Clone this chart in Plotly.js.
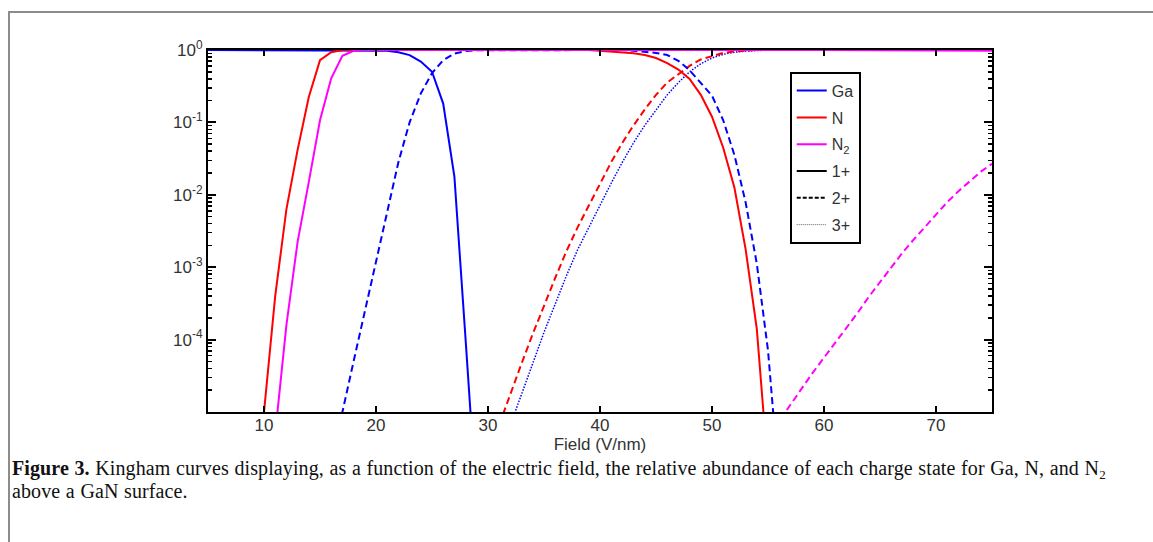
<!DOCTYPE html>
<html>
<head>
<meta charset="utf-8">
<script src="https://cdn.plot.ly/plotly-3.0.1.min.js"></script>
<style>
  html, body { margin: 0; padding: 0; background: #fff; }
  #page { position: relative; width: 1153px; height: 542px; overflow: hidden; }
  #frame { position: absolute; left: 8px; top: 11px; right: -10px; bottom: -10px;
           border-top: 2px solid #8c8c8c; border-left: 2px solid #8c8c8c; }
  #chart { position: absolute; left: 0; top: 0; width: 1153px; height: 542px; }
  #caption { position: absolute; left: 12px; top: 457px; width: 1135px; white-space: nowrap;
             font-family: "Liberation Serif", "DejaVu Serif", serif; font-size: 20px;
             letter-spacing: 0.1px; word-spacing: 0.5px;
             line-height: 23px; color: #111; }
  #caption b { font-weight: bold; }
  #caption sub { font-size: 13px; vertical-align: -4px; line-height: 0; }
</style>
</head>
<body>
<div id="page">
  <div id="frame"></div>
  <div id="chart"></div>
  <div id="caption"><b>Figure 3.</b> Kingham curves displaying, as a function of the electric field, the relative abundance of each charge state for Ga, N, and N<sub>2</sub><br>above a GaN surface.</div>
</div>
<script>
// Relative abundance of each charge state versus surface field (V/nm)

// Ga 1+
const gaOneField = [5, 20, 21, 22, 23, 24, 25, 26, 27, 28, 29];
const gaOneAbund = [1, 1, 0.977, 0.933, 0.851, 0.692, 0.501, 0.182, 0.0178, 1.0e-4, 5.0e-7];

// Ga 2+
const gaTwoField = [16, 17, 18, 19, 20, 21, 22, 23, 24, 25, 26, 27, 28, 29, 42,
                    43, 44, 45, 46, 47, 48, 49, 50, 51, 52, 53, 54, 55, 56];
const gaTwoAbund = [4.0e-7, 1.0e-5, 5.0e-5, 2.5e-4, 1.26e-3, 6.3e-3, 0.0282, 0.1, 0.251, 0.479,
                    0.724, 0.891, 0.966, 0.99, 1,
                    0.977, 0.955, 0.912, 0.851, 0.708, 0.525, 0.355, 0.234, 0.107, 0.0355,
                    7.9e-3, 1.12e-3, 7.1e-5, 1.0e-6];

// Ga 3+
const gaThreeField = [31, 32, 33, 34, 35, 36, 37, 38, 39, 40, 41, 42, 43, 44, 45,
                      46, 47, 48, 49, 50, 51, 52, 53, 54, 55, 75];
const gaThreeAbund = [2.5e-6, 6.8e-6, 1.78e-5, 4.7e-5, 1.26e-4, 3.16e-4, 7.6e-4, 1.74e-3, 3.55e-3,
                      7.2e-3, 0.0145, 0.0282, 0.0525, 0.0912, 0.151, 0.240, 0.355, 0.501, 0.646,
                      0.776, 0.871, 0.933, 0.966, 0.989, 1, 1];

// N 1+
const nOneField = [9, 10, 11, 12, 13, 14, 15, 16, 17, 39, 40, 41, 42, 43, 44, 45,
                   46, 47, 48, 49, 50, 51, 52, 53, 54, 55];
const nOneAbund = [2.5e-7, 1.0e-5, 3.98e-4, 6.3e-3, 0.0417, 0.224, 0.724, 0.933, 1, 1,
                   0.977, 0.955, 0.933, 0.902, 0.851, 0.776, 0.661, 0.537, 0.398, 0.240,
                   0.120, 0.0447, 0.0126, 1.78e-3, 1.41e-4, 1.6e-6];

// N 2+
const nTwoField = [30, 31, 32, 33, 34, 35, 36, 37, 38, 39, 40, 41, 42, 43, 44, 45,
                   46, 47, 48, 49, 50, 51, 52, 53, 54, 75];
const nTwoAbund = [2.5e-6, 6.8e-6, 1.78e-5, 4.7e-5, 1.2e-4, 2.95e-4, 7.1e-4, 1.66e-3, 3.55e-3,
                   7.1e-3, 0.0141, 0.0282, 0.0525, 0.0912, 0.151, 0.240, 0.355, 0.468, 0.603,
                   0.741, 0.832, 0.912, 0.955, 0.977, 1, 1];

// N2 1+
const nTwoMolOneField = [10, 11, 12, 13, 14, 15, 16, 17, 18, 19, 60, 70, 75];
const nTwoMolOneAbund = [1.0e-7, 5.0e-6, 1.58e-4, 2.24e-3, 0.0151, 0.107, 0.407, 0.832, 0.977,
                         1, 1, 0.995, 0.974];

// N2 2+
const nTwoMolTwoField = [55, 56, 57, 58, 59, 60, 61, 62, 63, 64, 65, 66, 67, 68, 69,
                         70, 71, 72, 73, 74, 75];
const nTwoMolTwoAbund = [4.5e-6, 7.6e-6, 1.26e-5, 2.1e-5, 3.5e-5, 5.6e-5, 8.9e-5, 1.41e-4,
                         2.34e-4, 3.9e-4, 6.3e-4, 1.0e-3, 1.58e-3, 2.4e-3, 3.6e-3, 5.4e-3,
                         7.9e-3, 0.0112, 0.0151, 0.0209, 0.0268];

// Axis labels
const fieldTicks = [10, 20, 30, 40, 50, 60, 70];
const abundTicks = [1, 0.1, 0.01, 0.001, 0.0001];
const abundTickText = ['10<sup>0</sup>', '10<sup>-1</sup>', '10<sup>-2</sup>', '10<sup>-3</sup>', '10<sup>-4</sup>'];

// Legend entries: species colours, then charge-state line styles
const speciesNames = ['Ga', 'N', 'N<sub>2</sub>'];
const chargeNames = ['1+', '2+', '3+'];

const BLUE = '#0000ff', RED = '#ff0000', MAGENTA = '#ff00ff';
const SOLID = 'solid', DASHED = '7px,4px', DOTTED = '1.5px,1.5px';

function curve(x, y, color, dash, width) {
  return { x: x, y: y, type: 'scatter', mode: 'lines', showlegend: false,
           hoverinfo: 'skip', line: { color: color, dash: dash, width: width } };
}

const traces = [
  curve(gaThreeField, gaThreeAbund, BLUE, DOTTED, 1.5),
  curve(nTwoField, nTwoAbund, RED, DASHED, 2),
  curve(gaTwoField, gaTwoAbund, BLUE, DASHED, 2),
  curve(nTwoMolTwoField, nTwoMolTwoAbund, MAGENTA, DASHED, 2),
  curve(gaOneField, gaOneAbund, BLUE, SOLID, 2),
  curve(nOneField, nOneAbund, RED, SOLID, 2),
  curve(nTwoMolOneField, nTwoMolOneAbund, MAGENTA, SOLID, 2)
];

// Legend-only entries
const legendStyles = [
  [speciesNames[0], BLUE, SOLID, 2], [speciesNames[1], RED, SOLID, 2], [speciesNames[2], MAGENTA, SOLID, 2],
  [chargeNames[0], '#000', SOLID, 2], [chargeNames[1], '#000', '4px,2px', 2], [chargeNames[2], '#666', '1px,1px', 1]
];
legendStyles.forEach(function (s, i) {
  traces.push({ x: [null], y: [null], type: 'scatter', mode: 'lines', name: s[0],
                legendgroup: 'g' + i, showlegend: true,
                line: { color: s[1], dash: s[2], width: s[3] } });
});

// Minor ticks for every decade on the log axis
const minorVals = [];
for (let e = -5; e < 0; e++) {
  for (let m = 2; m <= 9; m++) minorVals.push(m * Math.pow(10, e));
}

const axisFont = { family: 'Liberation Sans, Arial, sans-serif', size: 17, color: '#333' };

const layout = {
  width: 1153, height: 542,
  margin: { l: 208, r: 161, t: 50, b: 130 },
  paper_bgcolor: 'rgba(0,0,0,0)', plot_bgcolor: '#fff',
  showlegend: true,
  legend: {
    x: 0.742, y: 0.94, xanchor: 'left', yanchor: 'top',
    bgcolor: '#fff', bordercolor: '#000', borderwidth: 2,
    font: { family: 'Liberation Sans, Arial, sans-serif', size: 16, color: '#333' },
    traceorder: 'grouped', tracegroupgap: 3, itemwidth: 30
  },
  xaxis: {
    range: [5, 75], tickmode: 'array', tickvals: fieldTicks,
    ticks: 'inside', ticklen: 6, tickwidth: 2, tickcolor: '#000',
    ticklabelstandoff: -3,
    showline: true, linecolor: '#000', linewidth: 2, mirror: 'ticks',
    showgrid: false, zeroline: false, tickfont: axisFont,
    title: { text: 'Field (V/nm)', font: axisFont, standoff: 0 }
  },
  yaxis: {
    type: 'log', range: [-5, 0],
    tickmode: 'array', tickvals: abundTicks, ticktext: abundTickText,
    ticks: 'inside', ticklen: 8, tickwidth: 2, tickcolor: '#000',
    minor: { tickmode: 'array', tickvals: minorVals, ticks: 'inside', ticklen: 4,
             tickwidth: 1.5, tickcolor: '#000', showgrid: false },
    showline: true, linecolor: '#000', linewidth: 2, mirror: 'ticks',
    showgrid: false, zeroline: false, tickfont: axisFont
  }
};

Plotly.newPlot('chart', traces, layout, { staticPlot: true, displayModeBar: false });
</script>
</body>
</html>
